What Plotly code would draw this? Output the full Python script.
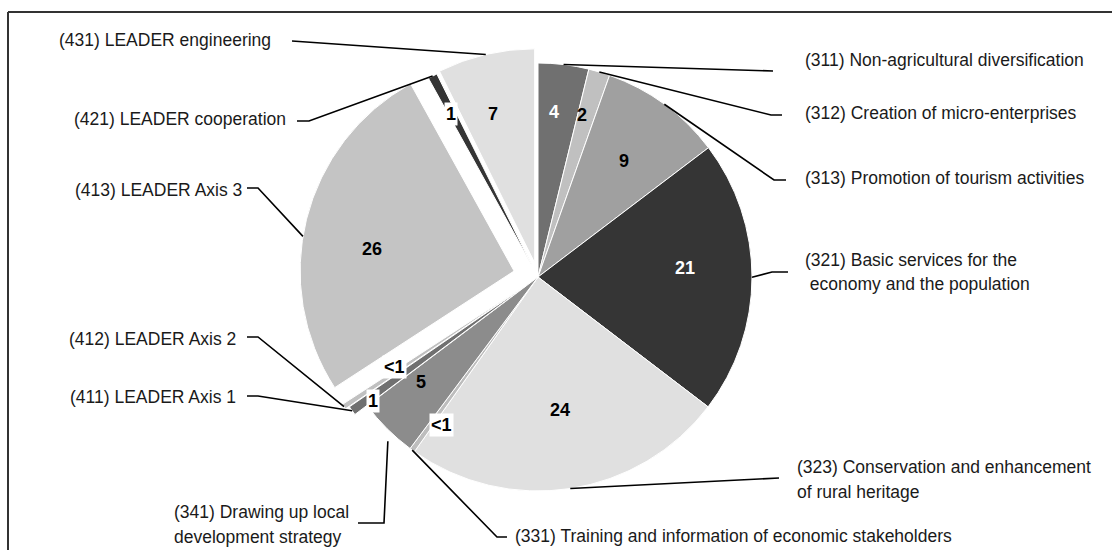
import math
import plotly.graph_objects as go

# ---------------- data ----------------
codes = ["311", "312", "313", "321", "323", "331", "341", "411", "412", "413", "421", "431"]
names = [
    "(311) Non-agricultural diversification",
    "(312) Creation of micro-enterprises",
    "(313) Promotion of tourism activities",
    "(321) Basic services for the<br> economy and the population",
    "(323) Conservation and enhancement<br>of rural heritage",
    "(331) Training and information of economic stakeholders",
    "(341) Drawing up local<br>development strategy",
    "(411) LEADER Axis 1",
    "(412) LEADER Axis 2",
    "(413) LEADER Axis 3",
    "(421) LEADER cooperation",
    "(431) LEADER engineering",
]
shares = [3.8, 1.6, 9.2, 20.6, 24.3, 0.4, 4.5, 0.7, 0.4, 26.0, 0.7, 7.3]
value_labels = ["4", "2", "9", "21", "24", "<1", "5", "1", "<1", "26", "1", "7"]

# ---------------- style / layout ----------------
W, H = 1112, 550
CX, CY, R = 538, 277, 214
colors = ["#707070", "#c0c0c0", "#a0a0a0", "#353535", "#e0e0e0", "#bdbdbd",
          "#8c8c8c", "#707070", "#c0c0c0", "#c4c4c4", "#353535", "#e0e0e0"]
pulls = [0, 0, 0, 0, 0, 0, 0, 0.07, 0.09, 0.115, 0.06, 0.068]
lab_color = ["white", "black", "black", "white", "black", "black",
             "black", "black", "black", "black", "black", "black"]
lab_box = [False, False, False, False, False, True, False, True, True, False, True, False]
lab_rf = [0.775, 0.785, 0.675, 0.688, 0.63, 0.827, 0.735, 0.894, 0.70, 0.672, 0.803, 0.722]
lab_nudge = [-1.3, -1.45, 0.35, -3.6, -0.7, -2.8, 3.2, -1.3, 1.7, -5.2, -0.4, -2.5]

# outer labels: (x, y of the block centre, xanchor)
txt_pos = [
    (803, 60, "left"), (803, 113, "left"), (803, 178, "left"), (803, 272, "left"),
    (795, 479, "left"), (513, 536, "left"), (172, 524, "left"),
    (238, 397, "right"), (238, 339, "right"), (244, 190, "right"),
    (288, 119, "right"), (273, 40, "right"),
]
LINE_GAP = 25
# leader line elbow points (from text side), then rim anchor (t along slice, radius fraction)
leader_pts = [
    [(773, 71)], [(782, 115), (771, 115)], [(786, 180), (774, 180)], [(788, 272), (772, 272)],
    [(779, 478)], [(507, 537), (497, 537)], [(358, 523), (384, 523)],
    [(247, 396), (258, 396)], [(247, 337), (258, 337)], [(247, 188), (258, 188)],
    [(297, 121), (309, 121)], [(292, 41)],
]
leader_rim = [(0.5, 1.0), (0.5, 1.0), (0.5, 1.0), (0.5, 1.0), (0.5, 1.0), (0.5, 1.0), (0.35, 1.04),
              (0.5, 1.0), (0.5, 1.0), (0.45, 1.0), (0.5, 1.0), (0.5, 1.0)]

FONT = "Liberation Sans, Arial, sans-serif"
OUTER_SIZE = 17.5
VALUE_SIZE = 18

# ---------------- geometry derived from data ----------------
total = sum(shares)
cum = [0.0]
for v in shares:
    cum.append(cum[-1] + v)


def slice_point(i, t, rf, nudge_deg=0.0):
    a0 = 2 * math.pi * cum[i] / total
    a1 = 2 * math.pi * cum[i + 1] / total
    mid = (a0 + a1) / 2
    vx = CX + pulls[i] * R * math.sin(mid)
    vy = CY - pulls[i] * R * math.cos(mid)
    a = a0 + t * (a1 - a0) + math.radians(nudge_deg)
    return vx + rf * R * math.sin(a), vy - rf * R * math.cos(a)


def px(x):
    return x / W


def py(y):
    return 1 - y / H


half = R * (1 + max(pulls))
domain_x = [(CX - half) / W, (CX + half) / W]
domain_y = [(H - CY - half) / H, (H - CY + half) / H]

fig = go.Figure(go.Pie(
    labels=codes, values=shares, sort=False, direction="clockwise", rotation=0,
    pull=pulls, textinfo="none", hoverinfo="skip", showlegend=False,
    marker=dict(colors=colors, line=dict(color="white", width=1)),
    domain=dict(x=domain_x, y=domain_y),
))

shapes = []
annotations = []

# frame (top + left rules)
shapes.append(dict(type="line", xref="paper", yref="paper", x0=px(8), x1=px(W + 5),
                   y0=py(12), y1=py(12), line=dict(color="#333333", width=2)))
shapes.append(dict(type="line", xref="paper", yref="paper", x0=px(8), x1=px(8),
                   y0=py(12), y1=py(H + 5), line=dict(color="#333333", width=2)))

for i in range(len(codes)):
    # value labels inside / near slices
    lx, ly = slice_point(i, 0.5, lab_rf[i], lab_nudge[i])
    annotations.append(dict(
        x=px(lx), y=py(ly), xref="paper", yref="paper", text="<b>%s</b>" % value_labels[i],
        showarrow=False, font=dict(family=FONT, size=VALUE_SIZE, color=lab_color[i]),
        bgcolor="white" if lab_box[i] else "rgba(0,0,0,0)", borderpad=1,
        xanchor="center", yanchor="middle",
    ))
    # outer category labels (one annotation per line to control line spacing)
    tx, ty, anc = txt_pos[i]
    lines = names[i].split("<br>")
    n = len(lines)
    for k, line in enumerate(lines):
        yy = ty + (k - (n - 1) / 2) * LINE_GAP
        annotations.append(dict(
            x=px(tx), y=py(yy), xref="paper", yref="paper", text=line, showarrow=False,
            font=dict(family=FONT, size=OUTER_SIZE, color="#1a1a1a"), xanchor=anc,
            yanchor="middle", align="left",
        ))
    # leader lines
    t, rf = leader_rim[i]
    rx, ry = slice_point(i, t, rf)
    pts = leader_pts[i] + [(rx, ry)]
    path = "M %f %f" % (px(pts[0][0]), py(pts[0][1]))
    for (x, y) in pts[1:]:
        path += " L %f %f" % (px(x), py(y))
    shapes.append(dict(type="path", xref="paper", yref="paper", path=path,
                       line=dict(color="black", width=1.6)))

fig.update_layout(
    width=W, height=H, margin=dict(l=0, r=0, t=0, b=0),
    paper_bgcolor="white", plot_bgcolor="white",
    shapes=shapes, annotations=annotations,
)

fig.write_html("out.html")
